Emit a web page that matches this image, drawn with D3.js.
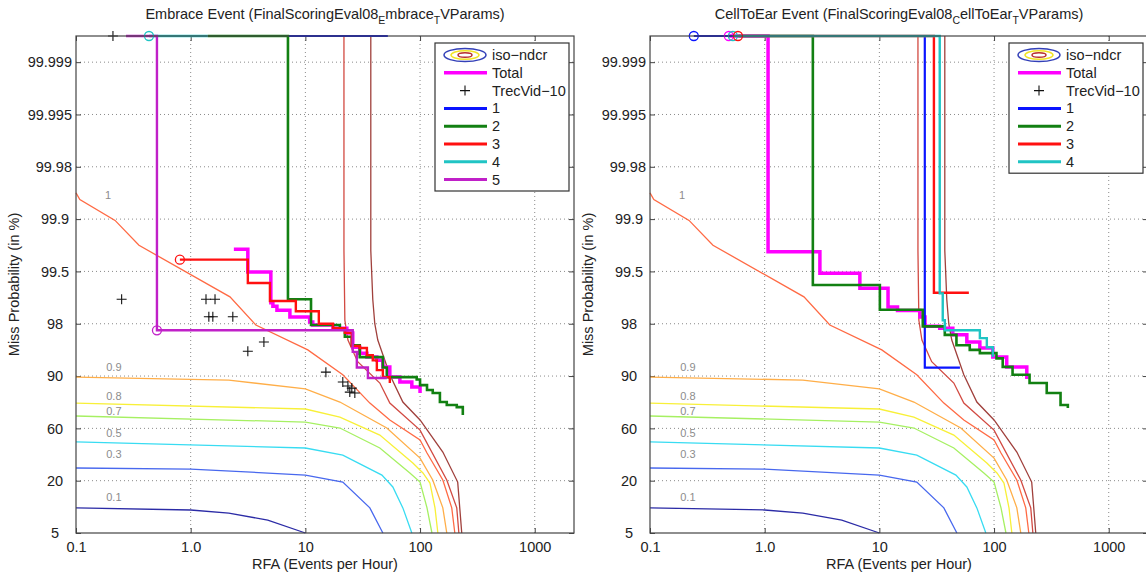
<!DOCTYPE html>
<html>
<head>
<meta charset="utf-8">
<script src="https://cdn.jsdelivr.net/npm/d3@7"></script>
<style>
  body { margin: 0; background: #fff; }
  text { font-family: "Liberation Sans", Arial, sans-serif; fill: #222; }
</style>
</head>
<body>
<svg id="chart" width="1146" height="575"></svg>
<script>
// axis ticks
const yTickValues = [5, 20, 60, 90, 98, 99.5, 99.9, 99.98, 99.995, 99.999]
const yTickLabels = ["5", "20", "60", "90", "98", "99.5", "99.9", "99.98", "99.995", "99.999"]
const xTickValues = [0.1, 1, 10, 100, 1000]
const xTickLabels = ["0.1", "1.0", "10", "100", "1000"]

// iso-ndcr contours [RFA, Pmiss %]
const isoNames = ["0.1", "0.3", "0.5", "0.7", "0.8", "0.9", "1", "", ""]
const iso01 = [[0.1, 12.2], [1.0, 11.6], [2.15, 10.7], [4.7, 8.7], [10, 5]]
const iso03 = [[0.1, 29.7], [1.0, 28.9], [10, 24.3], [21.2, 19.6], [36.5, 12.2], [47.4, 5]]
const iso05 = [[0.1, 49.6], [10, 45], [21.2, 39.6], [46.5, 24.3], [57.9, 18.2], [70.8, 12.2], [84.8, 5]]
const iso07 = [[0.1, 67.1], [10, 63.6], [20, 60.2], [44.6, 45], [81.5, 25.9], [100, 19.6], [115, 12.2], [127, 5]]
const iso08 = [[0.1, 74.5], [10, 71.1], [20, 66.5], [44.6, 54.9], [86.5, 33.5], [106, 25.9], [122, 19.3], [135, 12.2], [143, 5]]
const iso09 = [[0.1, 89.4], [2.15, 87.7], [10, 82.6], [20, 75.1], [51.3, 60.2], [100, 37.3], [129, 20.5], [158, 12.2], [171, 5]]
const iso10 = [[0.1, 99.94], [0.108, 99.93], [0.219, 99.89], [0.354, 99.70], [2.2, 98.77], [3.7, 97.8], [10.5, 94.0],
    [21.2, 90.2], [36.5, 74.5], [54.5, 64.8], [100, 51.1], [115, 41.2], [158, 20.5], [189, 12.2], [201, 5]]
const isoHi1 = [[21.7, 100], [21.7, 99.66], [22.1, 98.1], [23.5, 95.5], [28.6, 92.2], [44.6, 86], [54.5, 74.5],
    [100, 58.7], [171, 20.5], [209, 12.2], [218, 5]]
const isoHi2 = [[37.2, 100], [37.2, 99.66], [38.7, 98.7], [40.3, 98.0], [42.8, 95.5], [54.5, 90.2], [70.8, 75.1],
    [100, 64.8], [158, 41.9], [213, 19.6], [231, 5]]
const isoCurves = [iso01, iso03, iso05, iso07, iso08, iso09, iso10, isoHi1, isoHi2]
// where the level labels sit [RFA, Pmiss %]
const isoLabelAt = [[0.214, 15.3], [0.214, 40.4], [0.214, 56.4], [0.214, 69.9], [0.214, 78.5], [0.214, 91.4], [0.19, 99.937]]

// Embrace event
const embraceTotal = [[2.38, 99.67], [3.15, 99.48], [5.0, 98.6], [5.21, 98.5], [5.65, 98.39], [7.33, 98.19], [10.9, 98.05],
    [11.6, 97.8], [17.4, 97.3], [23, 96.6], [25.9, 94.4], [29.8, 93.5], [34.4, 92.9], [42, 92.4], [47.4, 91.4],
    [54.5, 89.4], [66.7, 86.6], [84.8, 83.7], [100, 80.3]]
const embraceTrec = [[0.21, 100], [0.25, 98.7], [1.36, 98.7], [1.63, 98.7], [1.44, 98.2], [1.56, 98.2], [2.33, 98.2],
    [4.35, 95.2], [3.15, 93.8], [15.1, 90.6], [21.2, 86.6], [23.5, 84.3], [25.4, 83.1], [24.4, 80.8], [27, 80.3]]
const embrace1 = [[7.05, 100], [52.4, 100]]
const embrace2 = [[1.41, 100], [7.05, 98.7], [11.2, 97.8], [20.0, 97.3], [22.1, 96.0], [25.4, 94.7], [29.8, 92.9],
    [47.4, 91.3], [51.3, 89.4], [93.5, 88.0], [100, 84.8], [115, 82], [129, 80.3], [149, 75.1], [171, 73.4],
    [209, 72.2], [236, 67.6]]
const embrace3 = [[0.805, 99.59], [3.15, 99.17], [4.91, 98.65], [8.26, 98.36], [13.1, 98.0], [17.4, 97.3], [22.1, 96.6],
    [25.4, 94.6], [29.8, 94.3], [34.4, 93.2], [38.7, 92.4], [42, 90.9], [47.4, 89.4], [54.5, 86]]
const embrace4 = [[0.433, 100], [1.41, 100]]
const embrace5 = [[0.273, 100], [0.508, 97.0], [25.9, 93.7], [28.1, 91.3], [35.1, 88.9], [51.3, 88.9]]
const embraceMin = [["4", 0.433, 100], ["3", 0.805, 99.59], ["5", 0.508, 97.0]]

// CellToEar event
const cellTotal = [[0.487, 100], [1.07, 99.65], [3.03, 99.45], [6.76, 99.02], [11.9, 98.48], [14.4, 98.38], [22.6, 98.19],
    [25, 97.6], [33.6, 97.3], [43.7, 96.3], [57.9, 95.2], [75.2, 94.3], [97.6, 92.9], [129, 91.4], [193, 88.3]]
const cell1 = [[0.241, 100], [24.9, 91.3], [50.4, 91.3]]
const cell2 = [[0.6, 100], [2.63, 99.11], [10.1, 98.4], [23.9, 97.6], [37.2, 96.3], [47, 94.7], [61.4, 94.0],
    [75.2, 93.5], [105, 92.7], [119, 91.4], [145, 90.2], [204, 86], [288, 80.3], [380, 73.4], [440, 71.7]]
const cell3 = [[0.585, 100], [29.9, 98.89], [60.3, 98.89]]
const cell4 = [[0.528, 100], [33.6, 98.87], [35.7, 98.1], [37.2, 97.0], [75.2, 95.8], [86.5, 94.4], [97.6, 92.9]]
const cellMin = [["1", 0.241, 100], ["Total", 0.487, 100], ["4", 0.528, 100], ["3", 0.585, 100]]

const isoColors = ["#2b2ba6", "#4868ee", "#38dcf2", "#a6f062", "#f8f038", "#ffae48", "#ff6a44", "#d24a42", "#a0403c"]
const seriesColors = { "Total": "#ff00ff", "1": "#0a14ff", "2": "#128012", "3": "#ff1010", "4": "#20c4c4", "5": "#c020c8" }
const seriesWidths = { "Total": 3.5, "1": 2.2, "2": 2.6, "3": 2.4, "4": 2.4, "5": 2.4 }

var svg = d3.select("#chart")

function drawPanel(offsetX, title, titleSubs, series, trec, minPoints) {
    let left = 76 + offsetX, right = 574 + offsetX, top = 36, bottom = 533
    let step = (bottom - top) / 9.5

    let x = d3.scaleLog().domain([0.1, 2200]).range([left, right])
    let y = d3.scaleLinear()
        .domain(yTickValues.concat([100]))
        .range(yTickValues.map((d, i) => bottom - i * step).concat([top]))

    let g = svg.append("g")

    // dotted grid
    g.selectAll(".xgrid")
        .data(xTickValues.slice(1))
        .join("line")
        .attr("x1", d => x(d)).attr("x2", d => x(d))
        .attr("y1", top).attr("y2", bottom)
        .attr("stroke", "#8a8a8a").attr("stroke-width", 1).attr("stroke-dasharray", "1,3")
    g.selectAll(".ygrid")
        .data(yTickValues.slice(1))
        .join("line")
        .attr("x1", left).attr("x2", right)
        .attr("y1", d => y(d)).attr("y2", d => y(d))
        .attr("stroke", "#8a8a8a").attr("stroke-width", 1).attr("stroke-dasharray", "1,3")

    // axes, ticks inside
    let xAxis = g.append("g").attr("transform", `translate(0,${bottom})`)
        .call(d3.axisBottom(x).tickValues(xTickValues).tickFormat((d, i) => xTickLabels[i])
            .tickSizeInner(-5).tickSizeOuter(0).tickPadding(9))
    let yAxis = g.append("g").attr("transform", `translate(${left},0)`)
        .call(d3.axisLeft(y).tickValues(yTickValues).tickFormat((d, i) => yTickLabels[i])
            .tickSizeInner(-5).tickSizeOuter(0).tickPadding(6))
    g.append("g").attr("transform", `translate(0,${top})`)
        .call(d3.axisTop(x).tickValues(xTickValues).tickFormat("").tickSizeInner(-5).tickSizeOuter(0))
    g.append("g").attr("transform", `translate(${right},0)`)
        .call(d3.axisRight(y).tickValues(yTickValues).tickFormat("").tickSizeInner(-5).tickSizeOuter(0))

    g.selectAll(".domain").remove()
    g.selectAll(".tick line").attr("stroke", "#444")
    g.selectAll(".tick text")
        .attr("font-family", "Liberation Sans, Arial, sans-serif")
        .attr("font-size", "14.5px")
        .attr("fill", "#222")
    xAxis.selectAll("text").attr("dy", "0.71em")
    yAxis.selectAll("text").each(function () {
        let w = this.getComputedTextLength()
        d3.select(this).attr("text-anchor", "middle").attr("x", Math.min(-21, -4 - w / 2))
    })

    // iso-ndcr contours
    let isoLine = d3.line().x(d => x(d[0])).y(d => y(d[1]))
    g.selectAll(".iso")
        .data(isoCurves)
        .join("path")
        .attr("d", isoLine)
        .attr("fill", "none")
        .attr("stroke", (d, i) => isoColors[i])
        .attr("stroke-width", 1.3)

    g.selectAll(".isolabel")
        .data(isoLabelAt)
        .join("text")
        .attr("x", d => x(d[0]))
        .attr("y", d => y(d[1]))
        .attr("text-anchor", "middle")
        .attr("dominant-baseline", "central")
        .attr("font-family", "Liberation Mono, DejaVu Sans Mono, monospace")
        .attr("font-size", "11px")
        .style("fill", "#8c8c8c")
        .text((d, i) => isoNames[i])

    let stepLine = d3.line().x(d => x(d[0])).y(d => y(d[1])).curve(d3.curveStepAfter)

    // Total first, then TrecVid marks, then the runs
    g.append("path")
        .attr("d", stepLine(series.Total))
        .attr("fill", "none")
        .attr("stroke", seriesColors.Total)
        .attr("stroke-width", seriesWidths.Total)

    g.selectAll(".trec")
        .data(trec)
        .join("path")
        .attr("d", d => `M${x(d[0]) - 5},${y(d[1])}H${x(d[0]) + 5}M${x(d[0])},${y(d[1]) - 5}V${y(d[1]) + 5}`)
        .attr("stroke", "#111")
        .attr("stroke-width", 1.1)

    let runNames = Object.keys(series).filter(k => k != "Total")
    runNames.forEach(k => {
        g.append("path")
            .attr("d", stepLine(series[k]))
            .attr("fill", "none")
            .attr("stroke", seriesColors[k])
            .attr("stroke-width", seriesWidths[k])
    })

    g.selectAll(".minpt")
        .data(minPoints)
        .join("circle")
        .attr("cx", d => x(d[1]))
        .attr("cy", d => y(d[2]))
        .attr("r", 4.5)
        .attr("fill", "none")
        .attr("stroke", d => seriesColors[d[0]])
        .attr("stroke-width", 1.3)

    // frame
    g.append("rect")
        .attr("x", left).attr("y", top)
        .attr("width", right - left).attr("height", bottom - top)
        .attr("fill", "none").attr("stroke", "#444").attr("stroke-width", 1.2)

    // title with subscripts
    let t = g.append("text")
        .attr("x", (left + right) / 2)
        .attr("y", 19)
        .attr("text-anchor", "middle")
        .attr("font-size", "14.5px")
    t.append("tspan").text(title[0])
    t.append("tspan").attr("dy", 4.5).attr("font-size", "10.5px").text(titleSubs[0])
    t.append("tspan").attr("dy", -4.5).text(title[1])
    t.append("tspan").attr("dy", 4.5).attr("font-size", "10.5px").text(titleSubs[1])
    t.append("tspan").attr("dy", -4.5).text(title[2])

    g.append("text")
        .attr("x", (left + right) / 2)
        .attr("y", 569)
        .attr("text-anchor", "middle")
        .attr("font-size", "14.5px")
        .text("RFA (Events per Hour)")

    g.append("text")
        .attr("transform", `translate(${offsetX + 19},${(top + bottom) / 2}) rotate(-90)`)
        .attr("text-anchor", "middle")
        .attr("font-size", "14.5px")
        .text("Miss Probability (in %)")

    // legend
    let entries = ["iso\u2212ndcr", "Total", "TrecVid\u221210"].concat(runNames)
    let rowH = 17.8
    let lx = 435 + offsetX, ly = 43
    let legend = g.append("g")
    legend.append("rect")
        .attr("x", lx).attr("y", ly)
        .attr("width", 134).attr("height", 12 + (entries.length - 1) * rowH + 11.4)
        .attr("fill", "#fff").attr("stroke", "#333").attr("stroke-width", 1.2)

    entries.forEach((name, i) => {
        let cy = ly + 12 + i * rowH
        let cx = lx + 30
        if (i == 0) {
            [[21, 6.5, "#3340b8"], [14, 4.3, "#f2e424"], [7, 2.3, "#b83030"]].forEach(e => {
                legend.append("ellipse")
                    .attr("cx", cx).attr("cy", cy).attr("rx", e[0]).attr("ry", e[1])
                    .attr("fill", "none").attr("stroke", e[2]).attr("stroke-width", 1.5)
            })
        } else if (i == 2) {
            legend.append("path")
                .attr("d", `M${cx - 5},${cy}H${cx + 5}M${cx},${cy - 5}V${cy + 5}`)
                .attr("stroke", "#111").attr("stroke-width", 1.1)
        } else {
            let key = i == 1 ? "Total" : name
            legend.append("line")
                .attr("x1", lx + 9).attr("x2", lx + 52)
                .attr("y1", cy).attr("y2", cy)
                .attr("stroke", seriesColors[key])
                .attr("stroke-width", key == "Total" ? 3.5 : 3)
        }
        legend.append("text")
            .attr("x", lx + 57)
            .attr("y", cy)
            .attr("dominant-baseline", "central")
            .attr("font-size", "14.5px")
            .text(name)
    })
}

drawPanel(0, ["Embrace Event (FinalScoringEval08", "mbrace", "VParams)"], ["E", "T"],
    { "Total": embraceTotal, "1": embrace1, "2": embrace2, "3": embrace3, "4": embrace4, "5": embrace5 },
    embraceTrec, embraceMin)

drawPanel(574, ["CellToEar Event (FinalScoringEval08", "ellToEar", "VParams)"], ["C", "T"],
    { "Total": cellTotal, "1": cell1, "2": cell2, "3": cell3, "4": cell4 },
    [], cellMin)
</script>
</body>
</html>
